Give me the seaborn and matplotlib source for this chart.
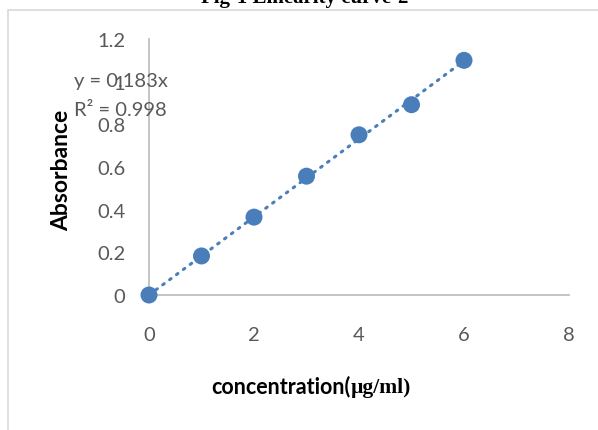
import numpy as np
import pandas as pd
import matplotlib
matplotlib.use("Agg")
import matplotlib.pyplot as plt
from matplotlib.patches import Rectangle
import seaborn as sns

# data
concentration = [0, 1, 2, 3, 4, 5, 6]
absorbance = [0.0, 0.183, 0.365, 0.557, 0.751, 0.892, 1.10]
x_ticks = [0, 2, 4, 6, 8]
y_ticks = [0, 0.2, 0.4, 0.6, 0.8, 1, 1.2]
y_tick_labels = ["0", "0.2", "0.4", "0.6", "0.8", "1", "1.2"]
equation_label = "y = 0.183x"
r2_label = "R\u00b2 = 0.998"

df = pd.DataFrame({"concentration": concentration, "absorbance": absorbance})

# linear trend through origin
x_arr = np.array(concentration, dtype=float)
y_arr = np.array(absorbance)
slope = (x_arr * y_arr).sum() / (x_arr ** 2).sum()
trend = pd.DataFrame({"x": [0, 6], "y": [0, 6 * slope]})

sns.set_theme(style="white")
plt.rcParams["font.family"] = ["Lato", "DejaVu Sans"]

W, H = 598, 431
fig = plt.figure(figsize=(W / 100, H / 100), dpi=100)

# chart area border
fig.patches.append(Rectangle((8 / W, -0.1), 1.2, 1 - 11 / H + 0.1, transform=fig.transFigure,
                             fill=False, edgecolor="#d9d9d9", linewidth=1.2))

ax = fig.add_axes([149 / W, 1 - 296 / H, 420 / W, 256 / H])
blue = "#4a7ebb"

sns.lineplot(data=trend, x="x", y="y", ax=ax, color=blue, linewidth=2.2,
             linestyle=(0, (0.6, 2.2)), dash_capstyle="round")
sns.scatterplot(data=df, x="concentration", y="absorbance", ax=ax, color=blue,
                s=150, edgecolor="none", zorder=3, clip_on=False)

ax.set_xlim(0, 8)
ax.set_ylim(0, 1.2)
ax.set_xticks(x_ticks)
ax.set_yticks(y_ticks)
ax.set_yticklabels(y_tick_labels)
ax.tick_params(axis="both", length=0, labelsize=14.5, labelcolor="#595959")
ax.tick_params(axis="y", pad=17)
ax.tick_params(axis="x", pad=22)
for side in ["top", "right"]:
    ax.spines[side].set_visible(False)
for side in ["left", "bottom"]:
    ax.spines[side].set_color("#bfbfbf")
    ax.spines[side].set_linewidth(1.3)
ax.set_xlabel("")
ax.set_ylabel("")
ax.patch.set_alpha(0)

# equation label
ax.text(-1.43, 1.005, equation_label, fontsize=14.5, color="#595959", va="center", ha="left")
ax.text(-1.43, 0.87, r2_label, fontsize=14.5, color="#595959", va="center", ha="left")

fig.text(62 / W, 1 - 170 / H, "Absorbance", rotation=90, fontsize=16.5, fontweight="bold",
         ha="center", va="center", color="black")

# x label: sans part then serif part
t1 = fig.text(211 / W, 1 - 387 / H, "concentration(", fontsize=15.5, fontweight="bold",
              ha="left", va="center", color="black")
ax.annotate("\u00b5g/ml)", xy=(1, 0), xycoords=t1, xytext=(0, 0), textcoords="offset points",
            fontsize=15.5, fontweight="bold", family="Liberation Serif",
            ha="left", va="bottom", color="black", annotation_clip=False)

fig.text(305 / W, 1 - 3 / H, "Fig-1 Linearity curve-2", fontsize=15, fontweight="bold",
         family="Liberation Serif", ha="center", va="baseline", color="black")

fig.savefig("out.png", dpi=100)
